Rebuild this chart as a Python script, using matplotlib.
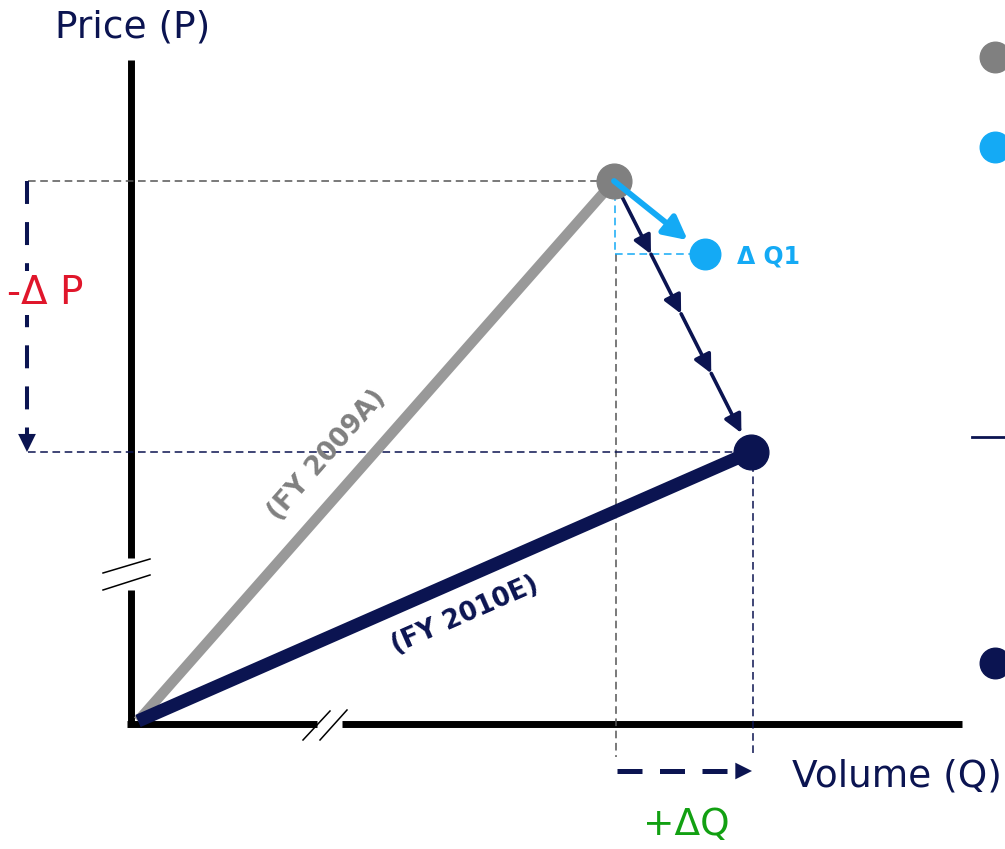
import matplotlib.pyplot as plt

# Price / volume plane, origin at the corner of the axes
fy2009 = (476, 540)    # FY 2009A (volume, price)
fy2010 = (613, 269)    # FY 2010E (volume, price)
dq1 = (567, 467)       # volume move at the old price
steps = [0, 0.27, 0.49, 0.71, 0.93]   # arrowheads along the 2009 -> 2010 move

# colours
navy = '#0b1451'
grey_line = '#999999'
grey_dot = '#808080'
blue = '#14aaf5'
red = '#e0162b'
green = '#12a012'

fig = plt.figure(figsize=(10.05, 8.49), dpi=100)
ax = fig.add_axes([0, 0, 1, 1])
ax.set_xlim(-138, 867)
ax.set_ylim(-128, 721)
ax.axis('off')

# axes with breaks
ax.plot([-7, -7], [-3, 131], color='k', lw=5, solid_capstyle='butt')
ax.plot([-7, -7], [163, 661], color='k', lw=5, solid_capstyle='butt')
ax.plot([-11, 179], [-3, -3], color='k', lw=5, solid_capstyle='butt')
ax.plot([204, 824], [-3, -3], color='k', lw=5, solid_capstyle='butt')
ax.plot([-35, 12], [148, 162], color='k', lw=1.1)
ax.plot([-35, 12], [131, 146], color='k', lw=1.1)
ax.plot([165, 192], [-19, 10], color='k', lw=1.1)
ax.plot([182, 209], [-19, 11], color='k', lw=1.1)

# thin dashed guides
thin = (0, (5, 3))
ax.plot([-110, fy2009[0]], [fy2009[1], fy2009[1]], ls=thin, lw=1.1, color='#555555')
ax.plot([fy2009[0] + 2, fy2009[0] + 2], [dq1[1], -36], ls=thin, lw=1.1, color='#555555')
ax.plot([fy2009[0] + 1, fy2009[0] + 1], [fy2009[1], dq1[1]], ls=thin, lw=1.1, color=blue)
ax.plot([fy2009[0] + 1, dq1[0]], [dq1[1], dq1[1]], ls=thin, lw=1.1, color=blue)
ax.plot([-110, fy2010[0]], [fy2010[1], fy2010[1]], ls=thin, lw=1.1, color=navy)
ax.plot([fy2010[0] + 2, fy2010[0] + 2], [fy2010[1], -36], ls=thin, lw=1.1, color=navy)

# rays from the origin
ax.plot([0, fy2009[0]], [0, fy2009[1]], color=grey_line, lw=7.5, solid_capstyle='butt', zorder=3)
ax.plot([0, fy2010[0]], [0, fy2010[1]], color=navy, lw=9.5, solid_capstyle='butt', zorder=4)

# move from 2009 to 2010, drawn as a chain of arrows
for a, b in zip(steps[:-1], steps[1:]):
    start = (fy2009[0] + a * (fy2010[0] - fy2009[0]), fy2009[1] + a * (fy2010[1] - fy2009[1]))
    end = (fy2009[0] + b * (fy2010[0] - fy2009[0]), fy2009[1] + b * (fy2010[1] - fy2009[1]))
    ax.annotate('', xy=end, xytext=start, zorder=5,
                arrowprops=dict(arrowstyle='-|>,head_length=0.55,head_width=0.27',
                                mutation_scale=20, lw=2.6, color=navy,
                                shrinkA=0, shrinkB=0))

# volume-only move
tip = (fy2009[0] + 0.81 * (dq1[0] - fy2009[0]), fy2009[1] + 0.81 * (dq1[1] - fy2009[1]))
ax.annotate('', xy=tip, xytext=fy2009, zorder=7,
            arrowprops=dict(arrowstyle='-|>,head_length=0.7,head_width=0.36',
                            mutation_scale=20, lw=4.2, color=blue,
                            shrinkA=0, shrinkB=0))

# points
ax.plot(*fy2009, 'o', ms=25, color=grey_dot, zorder=6)
ax.plot(*fy2010, 'o', ms=25, color=navy, zorder=6)
ax.plot(*dq1, 'o', ms=22, color=blue, zorder=6)

# delta P arrow on the left
ax.plot([-111, -111], [fy2009[1], fy2010[1] + 16], ls=(0, (5.7, 4.5)), lw=2.9, color=navy)
ax.annotate('', xy=(-111, fy2010[1]), xytext=(-111, fy2010[1] + 18),
            arrowprops=dict(arrowstyle='-|>,head_length=0.65,head_width=0.32',
                            mutation_scale=20, lw=0, color=navy, shrinkA=0, shrinkB=0))
ax.text(-93, 428, '-Δ P', color=red, fontsize=28, ha='center', va='center', zorder=5,
        bbox=dict(facecolor='white', edgecolor='none', pad=2))

# delta Q arrow under the axis
ax.plot([fy2009[0] + 3, fy2010[0] - 16], [-50, -50], ls=(0, (5, 3.5)), lw=3.6, color=navy)
ax.annotate('', xy=(fy2010[0] + 1, -50), xytext=(fy2010[0] - 18, -50),
            arrowprops=dict(arrowstyle='-|>,head_length=0.6,head_width=0.3',
                            mutation_scale=20, lw=0, color=navy, shrinkA=0, shrinkB=0))
ax.text(548, -104, '+ΔQ', color=green, fontsize=27, ha='center', va='center')

# labels
ax.text(-5, 694, 'Price (P)', color=navy, fontsize=27, ha='center', va='center')
ax.text(654, -56, 'Volume (Q)', color=navy, fontsize=27, ha='left', va='center')
ax.text(599, 465, 'Δ Q1', color=blue, fontsize=17, fontweight='bold', ha='left', va='center')
ax.text(189, 266, '(FY 2009A)', color=grey_dot, fontsize=19, fontweight='bold',
        rotation=48.7, rotation_mode='anchor', ha='center', va='center')
ax.text(327, 106, '(FY 2010E)', color=navy, fontsize=18.5, fontweight='bold',
        rotation=23.7, rotation_mode='anchor', ha='center', va='center')

# key markers running off the right edge
ax.plot(857, 664, 'o', ms=22, color=grey_dot)
ax.plot(857, 574, 'o', ms=22, color=blue)
ax.plot([834, 867], [284, 284], color=navy, lw=2)
ax.plot(857, 58, 'o', ms=22, color=navy)

fig.savefig('out.png', dpi=100)
